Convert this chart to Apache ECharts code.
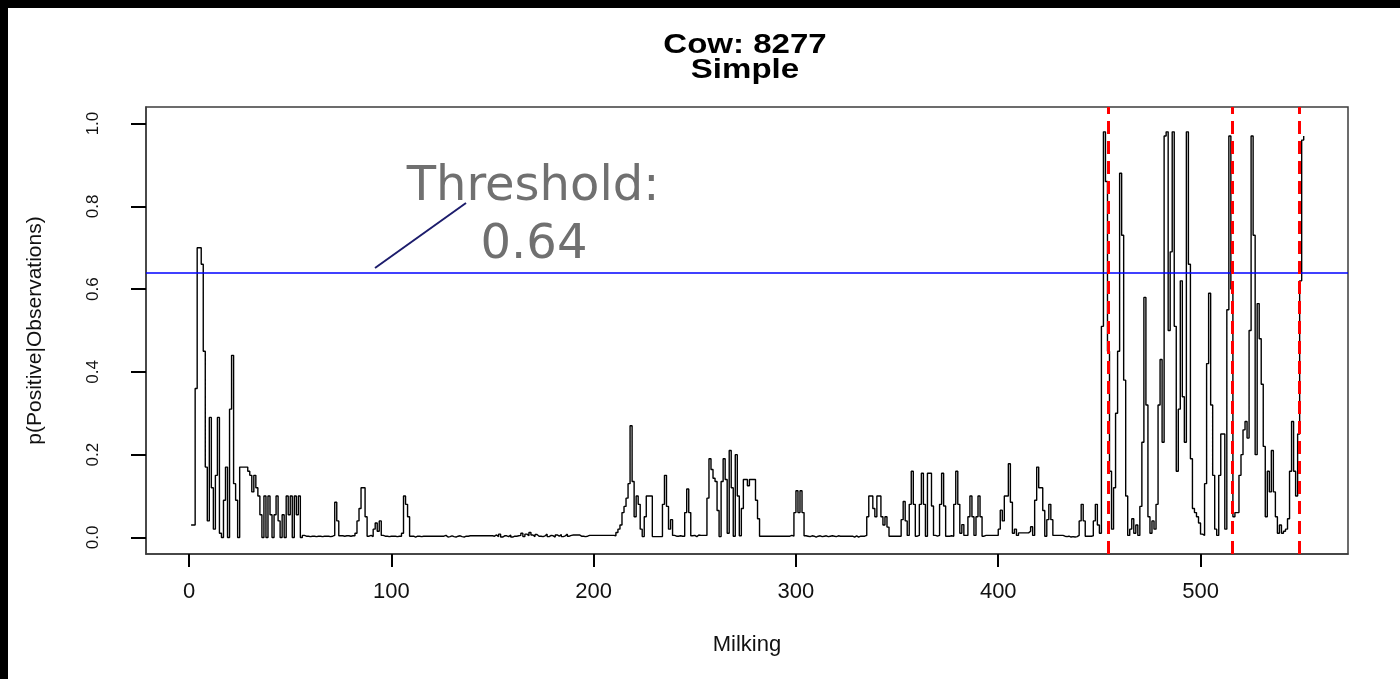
<!DOCTYPE html>
<html><head><meta charset="utf-8">
<script src="https://cdn.jsdelivr.net/npm/echarts@6/dist/echarts.min.js"></script>
<style>html,body{margin:0;padding:0;background:#fff;} #c{width:1400px;height:679px;}</style>
</head><body><div id="c"></div>
<script>
// ---- data (milking 1..551) ----
const segA = [ // milking 1-104
0.03,0.03,0.36,0.70,0.70,0.66,0.45,0.17,0.04,0.29,
0.12,0.02,0.15,0.29,0.01,0.00,0.09,0.17,0.00,0.31,
0.44,0.13,0.09,0.00,0.17,0.17,0.17,0.17,0.16,0.15,
0.11,0.15,0.12,0.10,0.055,0.00,0.10,0.00,0.10,0.055,
0.00,0.055,0.10,0.04,0.00,0.055,0.00,0.10,0.055,0.10,
0.00,0.10,0.055,0.10,0.00,0.005,0.003,0.003,0.002,0.003,
0.003,0.002,0.003,0.003,0.002,0.003,0.003,0.003,0.002,0.003,
0.005,0.085,0.04,0.004,0.004,0.003,0.004,0.004,0.003,0.004,
0.004,0.01,0.04,0.07,0.12,0.12,0.05,0.003,0.005,0.002,
0.02,0.035,0.015,0.04,0.005,0.003,0.003,0.002,0.003,0.003,
0.003,0.002,0.003,0.003];
const segB = [ // milking 105-212
0.01,0.10,0.08,0.05,0.003,0.003,0.001,0.003,0.003,0.002,
0.003,0.003,0.003,0.003,0.003,0.003,0.003,0.003,0.003,0.003,
0.003,0.005,0.001,0.002,0.004,0.002,0.001,0.003,0.004,0.002,
0.001,0.003,0.003,0.004,0.004,0.004,0.004,0.004,0.004,0.004,
0.004,0.004,0.004,0.004,0.004,0.003,0.006,0.002,0.008,0.001,
0.004,0.004,0.002,0.006,0.001,0.003,0.003,0.004,0.005,0.010,
0.002,0.008,0.004,0.012,0.006,0.002,0.007,0.003,0.003,0.002,
0.004,0.008,0.002,0.005,0.004,0.001,0.006,0.003,0.007,0.002,
0.004,0.008,0.003,0.005,0.006,0.006,0.006,0.006,0.003,0.003,
0.002,0.003,0.005,0.005,0.005,0.005,0.005,0.005,0.005,0.005,
0.005,0.005,0.005,0.005,0.005,0.004,0.012,0.02];
const segC = [ // milking 213-321
0.03,0.06,0.075,0.095,0.13,0.27,0.135,0.05,0.10,0.08,
0.02,0.002,0.05,0.10,0.10,0.10,0.002,0.002,0.002,0.002,
0.002,0.08,0.15,0.075,0.02,0.043,0.005,0.003,0.003,0.004,
0.003,0.003,0.06,0.117,0.06,0.004,0.005,0.002,0.006,0.005,
0.005,0.005,0.005,0.095,0.19,0.164,0.143,0.135,0.065,0.002,
0.135,0.19,0.14,0.01,0.21,0.12,0.003,0.20,0.10,0.004,
0.07,0.14,0.14,0.125,0.14,0.14,0.14,0.09,0.045,0.003,
0.003,0.003,0.003,0.003,0.003,0.003,0.003,0.003,0.003,0.003,
0.003,0.003,0.003,0.003,0.005,0.003,0.06,0.113,0.06,0.113,
0.06,0.004,0.003,0.002,0.004,0.003,0.001,0.003,0.004,0.002,
0.003,0.004,0.002,0.003,0.004,0.003,0.002,0.004,0.003];
const segD = [ // milking 322-430
0.003,0.003,0.003,0.003,0.003,0.003,0.001,0.004,0.001,0.003,
0.003,0.003,0.005,0.05,0.10,0.10,0.07,0.05,0.10,0.10,
0.05,0.03,0.05,0.025,0.003,0.003,0.003,0.003,0.003,0.003,
0.043,0.087,0.04,0.005,0.08,0.16,0.08,0.003,0.005,0.08,
0.155,0.08,0.003,0.155,0.155,0.076,0.005,0.003,0.005,0.08,
0.155,0.076,0.003,0.003,0.004,0.003,0.08,0.16,0.08,0.01,
0.031,0.005,0.005,0.05,0.10,0.05,0.005,0.05,0.10,0.05,
0.003,0.005,0.005,0.005,0.005,0.005,0.005,0.005,0.02,0.066,
0.04,0.10,0.10,0.178,0.085,0.01,0.02,0.005,0.011,0.011,
0.011,0.011,0.011,0.015,0.026,0.005,0.09,0.17,0.12,0.12,
0.065,0.003,0.043,0.08,0.043,0.005,0.005,0.005,0.005];
const segE = [ // milking 431-551
0.005,0.003,0.002,0.003,0.001,0.002,0.001,0.002,0.005,0.04,
0.08,0.04,0.003,0.003,0.003,0.004,0.04,0.08,0.03,0.01,
0.51,0.98,0.86,0.45,0.16,0.02,0.12,0.30,0.45,0.88,
0.73,0.38,0.10,0.005,0.02,0.045,0.01,0.03,0.005,0.075,
0.23,0.58,0.32,0.05,0.01,0.04,0.02,0.08,0.32,0.43,
0.23,0.97,0.98,0.50,0.69,0.98,0.51,0.16,0.31,0.62,
0.34,0.23,0.98,0.66,0.19,0.07,0.06,0.05,0.035,0.008,
0.005,0.13,0.42,0.59,0.32,0.15,0.02,0.005,0.15,0.25,
0.25,0.02,0.55,0.97,0.60,0.05,0.06,0.06,0.15,0.20,
0.26,0.28,0.24,0.50,0.97,0.73,0.20,0.565,0.48,0.37,
0.22,0.05,0.16,0.11,0.21,0.11,0.05,0.01,0.03,0.01,
0.015,0.02,0.045,0.16,0.28,0.16,0.10,0.25,0.62,0.96,
0.97];
const threshold = 0.64;
const changePoints = [454.2, 515.5, 548.8];
const xTicks = [0, 100, 200, 300, 400, 500];
const yTicks = [0, 0.2, 0.4, 0.6, 0.8, 1.0];
const titleLines = ['Cow: 8277', 'Simple'];

const probs = [].concat(segA, segB, segC, segD, segE);
const seriesData = probs.map((v, i) => [i + 1, v]);

const X_MIN = -21.3, X_MAX = 572.9, Y_MIN = -0.04, Y_MAX = 1.04;
const chart = echarts.init(document.getElementById('c'));
const axisFont = 'Liberation Sans, Arial, sans-serif';
const frame = {color: '#3c3c3c', width: 1.5};
chart.setOption({
  animation: false,
  grid: {left: 146, top: 107, width: 1202, height: 447, show: true, borderColor: '#3c3c3c', borderWidth: 1.5},
  xAxis: {
    type: 'value', min: X_MIN, max: X_MAX,
    name: 'Milking', nameLocation: 'middle', nameGap: 80,
    nameTextStyle: {fontFamily: axisFont, fontSize: 22, color: '#111'},
    axisLine: {show: true, onZero: false, lineStyle: frame},
    axisTick: {show: true, length: 13, customValues: xTicks, lineStyle: {color: '#000', width: 2}},
    axisLabel: {customValues: xTicks, fontFamily: axisFont, fontSize: 22, color: '#111', margin: 27},
    splitLine: {show: false}
  },
  yAxis: {
    type: 'value', min: Y_MIN, max: Y_MAX,
    name: 'p(Positive|Observations)', nameLocation: 'middle', nameGap: 100, nameRotate: 90,
    nameTextStyle: {fontFamily: axisFont, fontSize: 21, color: '#111'},
    axisLine: {show: true, onZero: false, lineStyle: frame},
    axisTick: {show: true, length: 15, customValues: yTicks, lineStyle: {color: '#000', width: 2}},
    axisLabel: {customValues: yTicks, rotate: 90, fontFamily: axisFont, fontSize: 17, color: '#111', margin: 44,
      formatter: v => v.toFixed(1)},
    splitLine: {show: false}
  },
  series: [{
    type: 'line', data: seriesData, step: 'end', showSymbol: false, symbol: 'none',
    lineStyle: {color: '#000', width: 1.4}, silent: true,
    markLine: {
      silent: true, symbol: 'none', label: {show: false}, animation: false,
      data: [{yAxis: threshold, lineStyle: {color: '#0000ff', width: 1.5, type: 'solid'}}]
        .concat(changePoints.map(x => ({xAxis: x, lineStyle: {color: '#ff0000', width: 3, type: [13, 7]}})))
    }
  }],
  graphic: [
    {type: 'rect', shape: {x: 0, y: 0, width: 1400, height: 8}, style: {fill: '#000'}, silent: true},
    {type: 'rect', shape: {x: 0, y: 0, width: 8, height: 679}, style: {fill: '#000'}, silent: true},
    {type: 'text', x: 745, y: 45, scaleX: 1.18, style: {text: titleLines[0], font: 'bold 28px Liberation Sans, Arial, sans-serif', fill: '#000', textAlign: 'center', textVerticalAlign: 'middle'}},
    {type: 'text', x: 745, y: 70, scaleX: 1.18, style: {text: titleLines[1], font: 'bold 28px Liberation Sans, Arial, sans-serif', fill: '#000', textAlign: 'center', textVerticalAlign: 'middle'}},
    {type: 'text', x: 533, y: 188, style: {text: 'Threshold:', font: '48px DejaVu Sans, sans-serif', fill: '#707070', textAlign: 'center', textVerticalAlign: 'middle'}},
    {type: 'text', x: 534, y: 246, style: {text: String(threshold), font: '48px DejaVu Sans, sans-serif', fill: '#707070', textAlign: 'center', textVerticalAlign: 'middle'}},
    {type: 'line', shape: {x1: 375, y1: 268, x2: 466, y2: 203}, style: {stroke: '#1c1c6c', lineWidth: 2}}
  ]
});
</script></body></html>
